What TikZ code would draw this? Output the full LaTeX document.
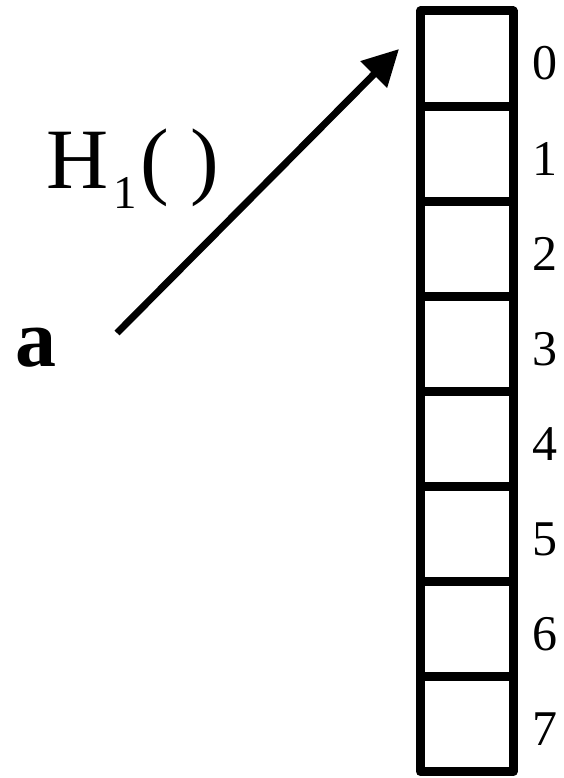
\documentclass[tikz,border=0pt]{standalone}
\usepackage{fontspec}
\setmainfont{Liberation Serif}
\usetikzlibrary{arrows.meta}
\begin{document}
\begin{tikzpicture}[x=1pt,y=-1pt,
  cell/.style={draw=black,line width=9pt,line join=round,minimum width=92.5pt,minimum height=95.1pt,inner sep=0pt},
  idx/.style={anchor=base,inner sep=0pt,font=\fontsize{50}{50}\selectfont},
  arr/.style={line width=7pt,-{Triangle[length=36pt,width=36pt]}}]
\useasboundingbox[fill=white] (0,0) rectangle (564,778);
\foreach \k in {0,...,7}{
  \node[cell] (c\k) at (466.75,{11+95.1*(\k+0.5)}) {};
  \node[idx] (l\k) at (545,{80+95.1*\k}) {\k};
}
\node[anchor=base west,inner sep=0pt,font=\fontsize{82}{82}\selectfont\bfseries] (a) at (15,366) {a};
\node[anchor=base west,inner sep=0pt,font=\fontsize{86}{86}\selectfont] (h) at (46,189) {H\kern5pt\raisebox{-20pt}{\fontsize{47}{47}\selectfont 1}\kern4pt( )};
\coordinate (s) at (117,333);
\coordinate (t) at (399,49);
\draw[arr] (s) -- (t);
\end{tikzpicture}
\end{document}
